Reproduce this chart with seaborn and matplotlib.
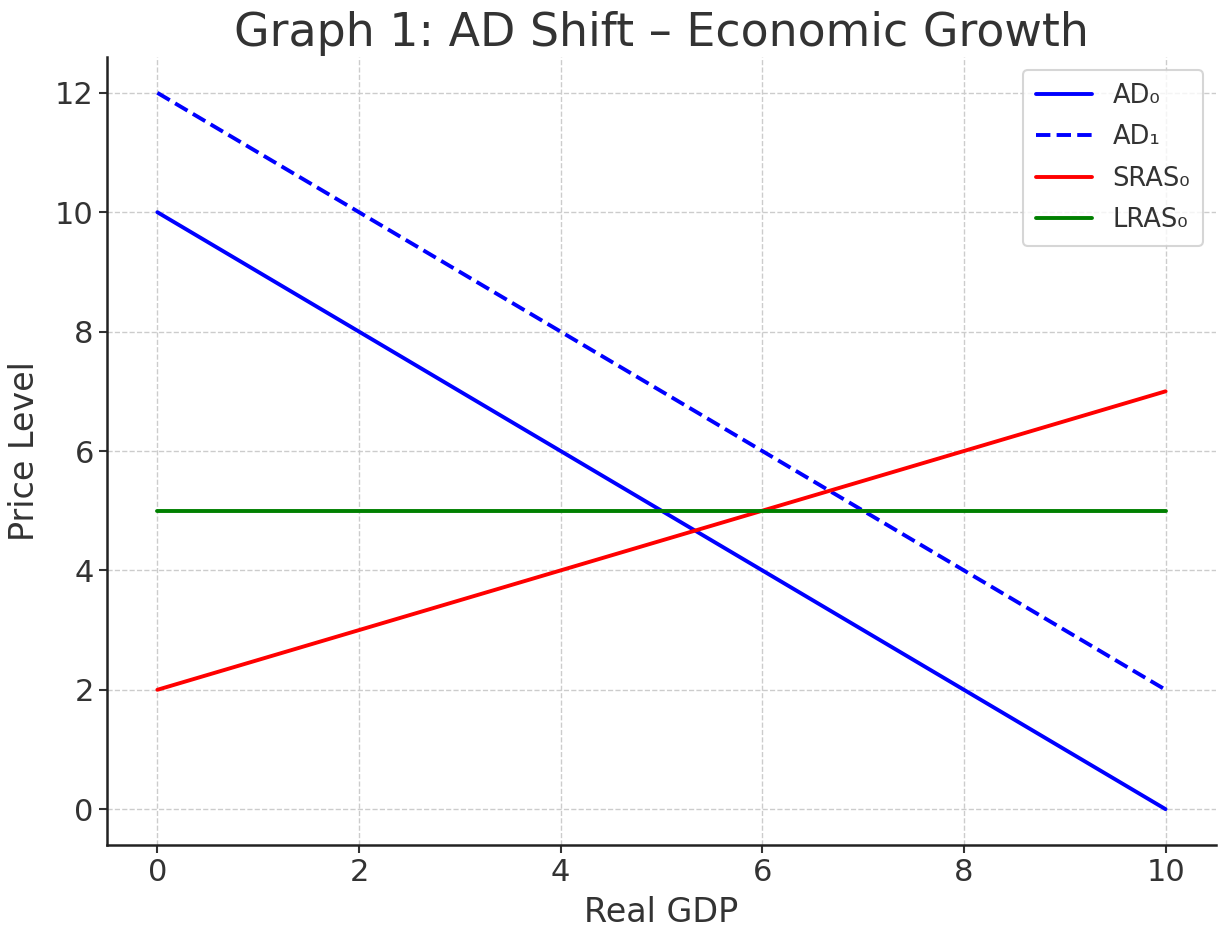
import matplotlib
matplotlib.use("Agg")
import matplotlib.pyplot as plt
import seaborn as sns
import pandas as pd

# values
real_gdp = [0, 2, 4, 6, 8, 10]
ad0 = [10, 8, 6, 4, 2, 0]
ad1 = [12, 10, 8, 6, 4, 2]
sras0 = [2, 3, 4, 5, 6, 7]
lras0 = [5, 5, 5, 5, 5, 5]

sns.set_style("ticks")
plt.rcParams['font.family'] = ['DejaVu Sans']
txt = '#333333'
plt.rcParams['text.color'] = txt
plt.rcParams['axes.labelcolor'] = txt
plt.rcParams['xtick.color'] = txt
plt.rcParams['ytick.color'] = txt

df = pd.DataFrame({"Real GDP": real_gdp, "AD0": ad0, "AD1": ad1,
                   "SRAS0": sras0, "LRAS0": lras0})

fig = plt.figure(figsize=(12.21, 9.30), dpi=100)
ax = fig.add_axes([0.0876, 0.0914, 0.9083, 0.8473])

sns.lineplot(data=df, x="Real GDP", y="AD0", ax=ax, color="blue", lw=2.8, label="AD\u2080")
sns.lineplot(data=df, x="Real GDP", y="AD1", ax=ax, color="blue", lw=2.8, ls="--", label="AD\u2081")
sns.lineplot(data=df, x="Real GDP", y="SRAS0", ax=ax, color="red", lw=2.8, label="SRAS\u2080")
sns.lineplot(data=df, x="Real GDP", y="LRAS0", ax=ax, color="green", lw=2.8, label="LRAS\u2080")

ax.set_title("Graph 1: AD Shift \u2013 Economic Growth", fontsize=33, color=txt, pad=8)
ax.set_xlabel("Real GDP", fontsize=24, labelpad=6)
ax.set_ylabel("Price Level", fontsize=24, labelpad=10)
ax.tick_params(labelsize=22, width=1.5, length=6)
ax.set_xticks([0, 2, 4, 6, 8, 10])
ax.set_yticks([0, 2, 4, 6, 8, 10, 12])
ax.grid(True, ls="--", color="#cccccc", lw=1)
for s in ["top", "right"]:
    ax.spines[s].set_visible(False)
for s in ["left", "bottom"]:
    ax.spines[s].set_linewidth(1.8)
    ax.spines[s].set_color("#222222")

leg = ax.legend(loc="upper right", fontsize=18.5, frameon=True, handlelength=2.2,
                borderpad=0.5, labelspacing=0.6)
leg.get_frame().set_edgecolor("#cccccc")
leg.get_frame().set_linewidth(1.5)

fig.savefig("out.png", dpi=100)
